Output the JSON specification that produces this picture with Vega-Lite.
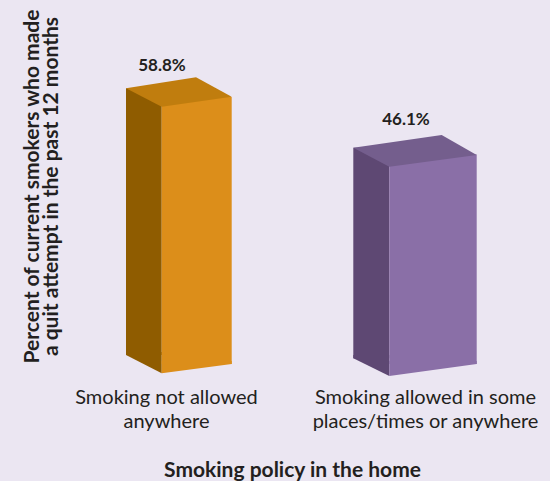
{
  "$schema": "https://vega.github.io/schema/vega-lite/v6.json",
  "width": 518,
  "height": 318,
  "autosize": {"type": "none"},
  "padding": {"left": 37, "top": 46, "right": 0, "bottom": 117},
  "background": "#ebe6f2",
  "config": {"view": {"stroke": null}, "font": "Lato"},
  "data": {
    "values": [
      {"policy": "Smoking not allowed anywhere", "pct": 58.8},
      {"policy": "Smoking allowed in some places/times or anywhere", "pct": 46.1}
    ]
  },
  "encoding": {
    "x": {
      "field": "policy",
      "type": "nominal",
      "sort": null,
      "scale": {"domain": ["Smoking not allowed anywhere", "Smoking allowed in some places/times or anywhere"], "paddingInner": 0, "paddingOuter": 0},
      "axis": {
        "title": "Smoking policy in the home",
        "titleFontWeight": "bold",
        "titleFontSize": 21,
        "titleColor": "#231f20",
        "titleX": 255,
        "titleY": 112.5,
        "titleAlign": "center",
        "titleBaseline": "alphabetic",
        "labelAngle": 0,
        "labelExpr": "datum.value === 'Smoking not allowed anywhere' ? ['Smoking not allowed', 'anywhere'] : ['Smoking allowed in some', 'places/times or anywhere']",
        "labelFontSize": 20,
        "labelColor": "#231f20",
        "labelPadding": 39,
        "labelBaseline": "alphabetic",
        "labelLineHeight": 24,
        "labelLimit": 400,
        "ticks": false,
        "tickSize": 0,
        "domain": false,
        "grid": false
      }
    },
    "y": {
      "field": "pct",
      "type": "quantitative",
      "scale": {"domain": [0, 70]},
      "axis": {
        "title": ["Percent of current smokers who made", "a quit attempt in the past 12 months"],
        "titleFontWeight": "bold",
        "titleFontSize": 21,
        "titleColor": "#231f20",
        "titleX": 1,
        "titleY": 140,
        "titleAngle": -90,
        "titleAlign": "center",
        "titleBaseline": "alphabetic",
        "titleLineHeight": 19,
        "labels": false,
        "ticks": false,
        "domain": false,
        "grid": false
      }
    }
  },
  "layer": [
    {
      "transform": [{"filter": "datum.policy === 'Smoking not allowed anywhere'"}],
      "mark": {"type": "bar", "width": 35.7, "xOffset": -22.65, "yOffset": -8.6, "y2Offset": -9, "color": "#8f5c00"},
      "encoding": {"y2": {"datum": 0}}
    },
    {
      "transform": [{"filter": "datum.policy === 'Smoking not allowed anywhere'"}],
      "mark": {"type": "point", "shape": "M-40.5,-9L-40.5,-12L-4.8,-12L-4.8,9.3Z", "size": 4, "filled": true, "opacity": 1, "strokeWidth": 0, "color": "#8f5c00"},
      "encoding": {"y": {"datum": 0}}
    },
    {
      "transform": [{"filter": "datum.policy === 'Smoking not allowed anywhere'"}],
      "mark": {"type": "bar", "width": 70, "xOffset": 30.2, "color": "#dc8e1a"},
      "encoding": {"y2": {"datum": 0}}
    },
    {
      "transform": [{"filter": "datum.policy === 'Smoking not allowed anywhere'"}],
      "mark": {"type": "point", "shape": "M-4.8,-3L65.2,-3L65.2,0L-4.8,9.3Z", "size": 4, "filled": true, "opacity": 1, "strokeWidth": 0, "color": "#dc8e1a"},
      "encoding": {"y": {"datum": 0}}
    },
    {
      "transform": [{"filter": "datum.policy === 'Smoking not allowed anywhere'"}],
      "mark": {"type": "point", "shape": "M-40.5,-8.6L29.5,-19.6L65.2,-0.2L-4.8,9.8Z", "size": 4, "filled": true, "opacity": 1, "strokeWidth": 0, "color": "#c07d0e"},
      "encoding": {}
    },
    {
      "transform": [
        {"filter": "datum.policy === 'Smoking not allowed anywhere'"},
        {"calculate": "format(datum.pct, '.1f') + '%'", "as": "label"}
      ],
      "mark": {"type": "text", "fontSize": 17, "fontWeight": "bold", "color": "#231f20", "dx": -4.5, "dy": -25.9, "baseline": "alphabetic", "align": "center"},
      "encoding": {"text": {"field": "label"}}
    },
    {
      "transform": [{"filter": "datum.policy !== 'Smoking not allowed anywhere'"}],
      "mark": {"type": "bar", "width": 36, "xOffset": -54.2, "yOffset": -6.9, "y2Offset": -5.7, "color": "#5e4873"},
      "encoding": {"y2": {"datum": 0}}
    },
    {
      "transform": [{"filter": "datum.policy !== 'Smoking not allowed anywhere'"}],
      "mark": {"type": "point", "shape": "M-72.2,-5.7L-72.2,-9L-36.2,-9L-36.2,12Z", "size": 4, "filled": true, "opacity": 1, "strokeWidth": 0, "color": "#5e4873"},
      "encoding": {"y": {"datum": 0}}
    },
    {
      "transform": [{"filter": "datum.policy !== 'Smoking not allowed anywhere'"}],
      "mark": {"type": "bar", "width": 87.4, "xOffset": 7.5, "color": "#8a6fa7"},
      "encoding": {"y2": {"datum": 0}}
    },
    {
      "transform": [{"filter": "datum.policy !== 'Smoking not allowed anywhere'"}],
      "mark": {"type": "point", "shape": "M-36.2,-3L51.2,-3L51.2,0L-36.2,12Z", "size": 4, "filled": true, "opacity": 1, "strokeWidth": 0, "color": "#8a6fa7"},
      "encoding": {"y": {"datum": 0}}
    },
    {
      "transform": [{"filter": "datum.policy !== 'Smoking not allowed anywhere'"}],
      "mark": {"type": "point", "shape": "M-72.2,-6.9L16.2,-19.6L51.2,0.4L-36.2,12.1Z", "size": 4, "filled": true, "opacity": 1, "strokeWidth": 0, "color": "#745e8d"},
      "encoding": {}
    },
    {
      "transform": [
        {"filter": "datum.policy !== 'Smoking not allowed anywhere'"},
        {"calculate": "format(datum.pct, '.1f') + '%'", "as": "label"}
      ],
      "mark": {"type": "text", "fontSize": 17, "fontWeight": "bold", "color": "#231f20", "dx": -19.5, "dy": -29.6, "baseline": "alphabetic", "align": "center"},
      "encoding": {"text": {"field": "label"}}
    }
  ]
}
